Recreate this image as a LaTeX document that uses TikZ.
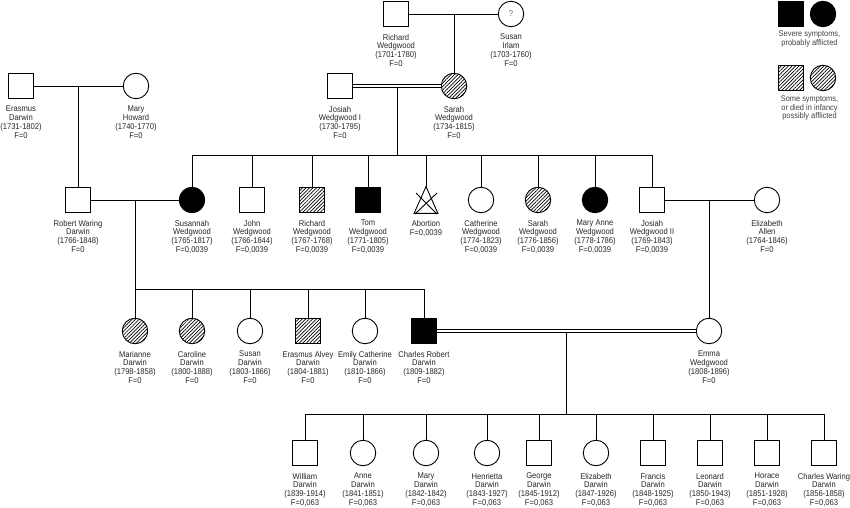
\documentclass[tikz,border=0pt]{standalone}
\usepackage{fontspec}
\setmainfont{Liberation Sans}[FakeStretch=0.91]
\usetikzlibrary{patterns.meta,positioning,calc}
\begin{document}
\begin{tikzpicture}[x=1bp,y=-1bp, line width=0.9bp,
  m/.style={draw, rectangle, minimum size=25.5bp, inner sep=0pt},
  f/.style={draw, circle, minimum size=25.5bp, inner sep=0pt},
  aff/.style={fill=black},
  hat/.style={pattern={Lines[angle=45,distance=2.5bp,line width=0.7bp]}},
  lbl/.style={anchor=north, align=center, inner sep=0pt, text=black!85, font=\fontsize{8.4}{8.8}\selectfont},
  leg/.style={align=center, inner sep=0pt, text=black!75, font=\fontsize{8.2}{8.1}\selectfont},
  dbl/.style={double, double distance=2.6bp, line width=0.8bp}
]
\useasboundingbox (0,0) rectangle (850,508);

% ---------- legend ----------
\node[m, aff] (lsqa) at (791,14) {};
\node[f, aff] (lcia) at (823,14) {};
\node[leg] (lta) at (809.5,39) {Severe symptoms,\\probably afflicted};
\node[m, hat] (lsqb) at (791,78) {};
\node[f, hat] (lcib) at (823,78) {};
\node[leg] (ltb) at (809.5,108) {Some symptoms,\\or died in infancy\\possibly afflicted};

% ---------- generation I ----------
\node[m] (rw) at (396,14) {};
\node[f] (si) at (511,14) {\fontsize{8.5}{9}\selectfont\textcolor{black!60}{?}};
\node[lbl, below=6.5bp of rw] (rwl) {Richard\\Wedgwood\\(1701-1780)\\F=0};
\node[lbl, below=6.5bp of si] (sil) {Susan\\Irlam\\(1703-1760)\\F=0};

\node[m] (ed) at (21,86) {};
\node[f] (mh) at (136,86) {};
\node[lbl, below=6.5bp of ed] (edl) {Erasmus\\Darwin\\(1731-1802)\\F=0};
\node[lbl, below=6.5bp of mh] (mhl) {Mary\\Howard\\(1740-1770)\\F=0};

\node[m] (ji) at (340,86) {};
\node[f, hat] (sw) at (454,86) {};
\node[lbl, below=6.5bp of ji] (jil) {Josiah\\Wedgwood I\\(1730-1795)\\F=0};
\node[lbl, below=6.5bp of sw] (swl) {Sarah\\Wedgwood\\(1734-1815)\\F=0};

% ---------- generation II ----------
\node[m] (rd) at (78,200) {};
\node[f, aff] (su) at (192,200) {};
\node[m] (jo) at (252,200) {};
\node[m, hat] (ri) at (312,200) {};
\node[m, aff] (to) at (368,200) {};
\node[minimum width=23bp, minimum height=26bp, inner sep=0pt] (ab) at (426,200) {};
\node[f] (ca) at (481,200) {};
\node[f, hat] (sa) at (538,200) {};
\node[f, aff] (ma) at (595,200) {};
\node[m] (jt) at (652,200) {};
\node[f] (ea) at (767,200) {};

\draw (ab.north) -- (ab.south west) -- (ab.south east) -- cycle;
\draw (415,214) -- (437,193);
\draw (416,193) -- (437,214);

\node[lbl, below=6.5bp of rd] (rdl) {Robert Waring\\Darwin\\(1766-1848)\\F=0};
\node[lbl, below=6.5bp of su] (sul) {Susannah\\Wedgwood\\(1765-1817)\\F=0,0039};
\node[lbl, below=6.5bp of jo] (jol) {John\\Wedgwood\\(1766-1844)\\F=0,0039};
\node[lbl, below=6.5bp of ri] (ril) {Richard\\Wedgwood\\(1767-1768)\\F=0,0039};
\node[lbl, below=6.5bp of to] (tol) {Tom\\Wedgwood\\(1771-1805)\\F=0,0039};
\node[lbl, below=6.5bp of ab] (abl) {Abortion\\F=0,0039};
\node[lbl, below=6.5bp of ca] (cal) {Catherine\\Wedgwood\\(1774-1823)\\F=0,0039};
\node[lbl, below=6.5bp of sa] (sal) {Sarah\\Wedgwood\\(1776-1856)\\F=0,0039};
\node[lbl, below=6.5bp of ma] (mal) {Mary Anne\\Wedgwood\\(1778-1786)\\F=0,0039};
\node[lbl, below=6.5bp of jt] (jtl) {Josiah\\Wedgwood II\\(1769-1843)\\F=0,0039};
\node[lbl, below=6.5bp of ea] (eal) {Elizabeth\\Allen\\(1764-1846)\\F=0};

% ---------- generation III ----------
\node[f, hat] (mn) at (135,331) {};
\node[f, hat] (cr) at (192,331) {};
\node[f] (sn) at (250,331) {};
\node[m, hat] (ea2) at (308,331) {};
\node[f] (ec) at (365,331) {};
\node[m, aff] (cd) at (424,331) {};
\node[f] (em) at (709,331) {};

\node[lbl, below=6.5bp of mn] (mnl) {Marianne\\Darwin\\(1798-1858)\\F=0};
\node[lbl, below=6.5bp of cr] (crl) {Caroline\\Darwin\\(1800-1888)\\F=0};
\node[lbl, below=6.5bp of sn] (snl) {Susan\\Darwin\\(1803-1866)\\F=0};
\node[lbl, below=6.5bp of ea2] (ea2l) {Erasmus Alvey\\Darwin\\(1804-1881)\\F=0};
\node[lbl, below=6.5bp of ec] (ecl) {Emily Catherine\\Darwin\\(1810-1866)\\F=0};
\node[lbl, below=6.5bp of cd] (cdl) {Charles Robert\\Darwin\\(1809-1882)\\F=0};
\node[lbl, below=6.5bp of em] (eml) {Emma\\Wedgwood\\(1808-1896)\\F=0};

% ---------- generation IV ----------
\foreach \id/\x/\sh/\name/\yrs in {
  wi/305/m/William/1839-1914,
  an/363/f/Anne/1841-1851,
  my/426/f/Mary/1842-1842,
  he/487/f/Henrietta/1843-1927,
  ge/539/m/George/1845-1912,
  el/596/f/Elizabeth/1847-1926,
  fr/653/m/Francis/1848-1925,
  le/710/m/Leonard/1850-1943,
  ho/767/m/Horace/1851-1928,
  cw/824/m/Charles Waring/1856-1858}{
  \node[\sh] (\id) at (\x,453) {};
  \node[lbl, below=6.5bp of \id] (\id l) {\name\\Darwin\\(\yrs)\\F=0,063};
}

% ---------- connectors ----------
% Richard x Susan -> Sarah
\draw (rw.east) -- (si.west);
\draw (sw.north) -- (sw.north |- rw.east);
% Erasmus x Mary -> Robert
\draw (ed.east) -- (mh.west);
\draw (rd.north) -- (rd.north |- ed.east);
% Josiah I = Sarah -> children
\draw[dbl] (ji.east) -- (sw.west);
\coordinate (m1) at ($(ji.east)!0.5!(sw.west)$);
\draw ([yshift=-1.7bp]m1) -- (m1 |- 0,156);
\draw (su.north) -- ++(0,-31) -| (jt.north);
\foreach \c in {jo,ri,to,ab,ca,sa,ma} \draw (\c.north) -- ++(0,-31);
% Robert x Susannah -> children
\draw (rd.east) -- (su.west);
\coordinate (m2) at ($(rd.east)!0.5!(su.west)$);
\draw (m2) -- (m2 |- mn.north);
\draw (mn.north) -- ++(0,-28) -| (cd.north);
\foreach \c in {cr,sn,ea2,ec} \draw (\c.north) -- ++(0,-28);
% Josiah II x Elizabeth -> Emma
\draw (jt.east) -- (ea.west);
\draw (em.north) -- (em.north |- jt.east);
% Charles = Emma -> children
\draw[dbl] (cd.east) -- (em.west);
\coordinate (m3) at ($(cd.east)!0.5!(em.west)$);
\draw ([yshift=-1.7bp]m3) -- (m3 |- 0,415);
\draw (wi.north) -- ++(0,-25) -| (cw.north);
\foreach \c in {an,my,he,ge,el,fr,le,ho} \draw (\c.north) -- ++(0,-25);
\end{tikzpicture}
\end{document}
